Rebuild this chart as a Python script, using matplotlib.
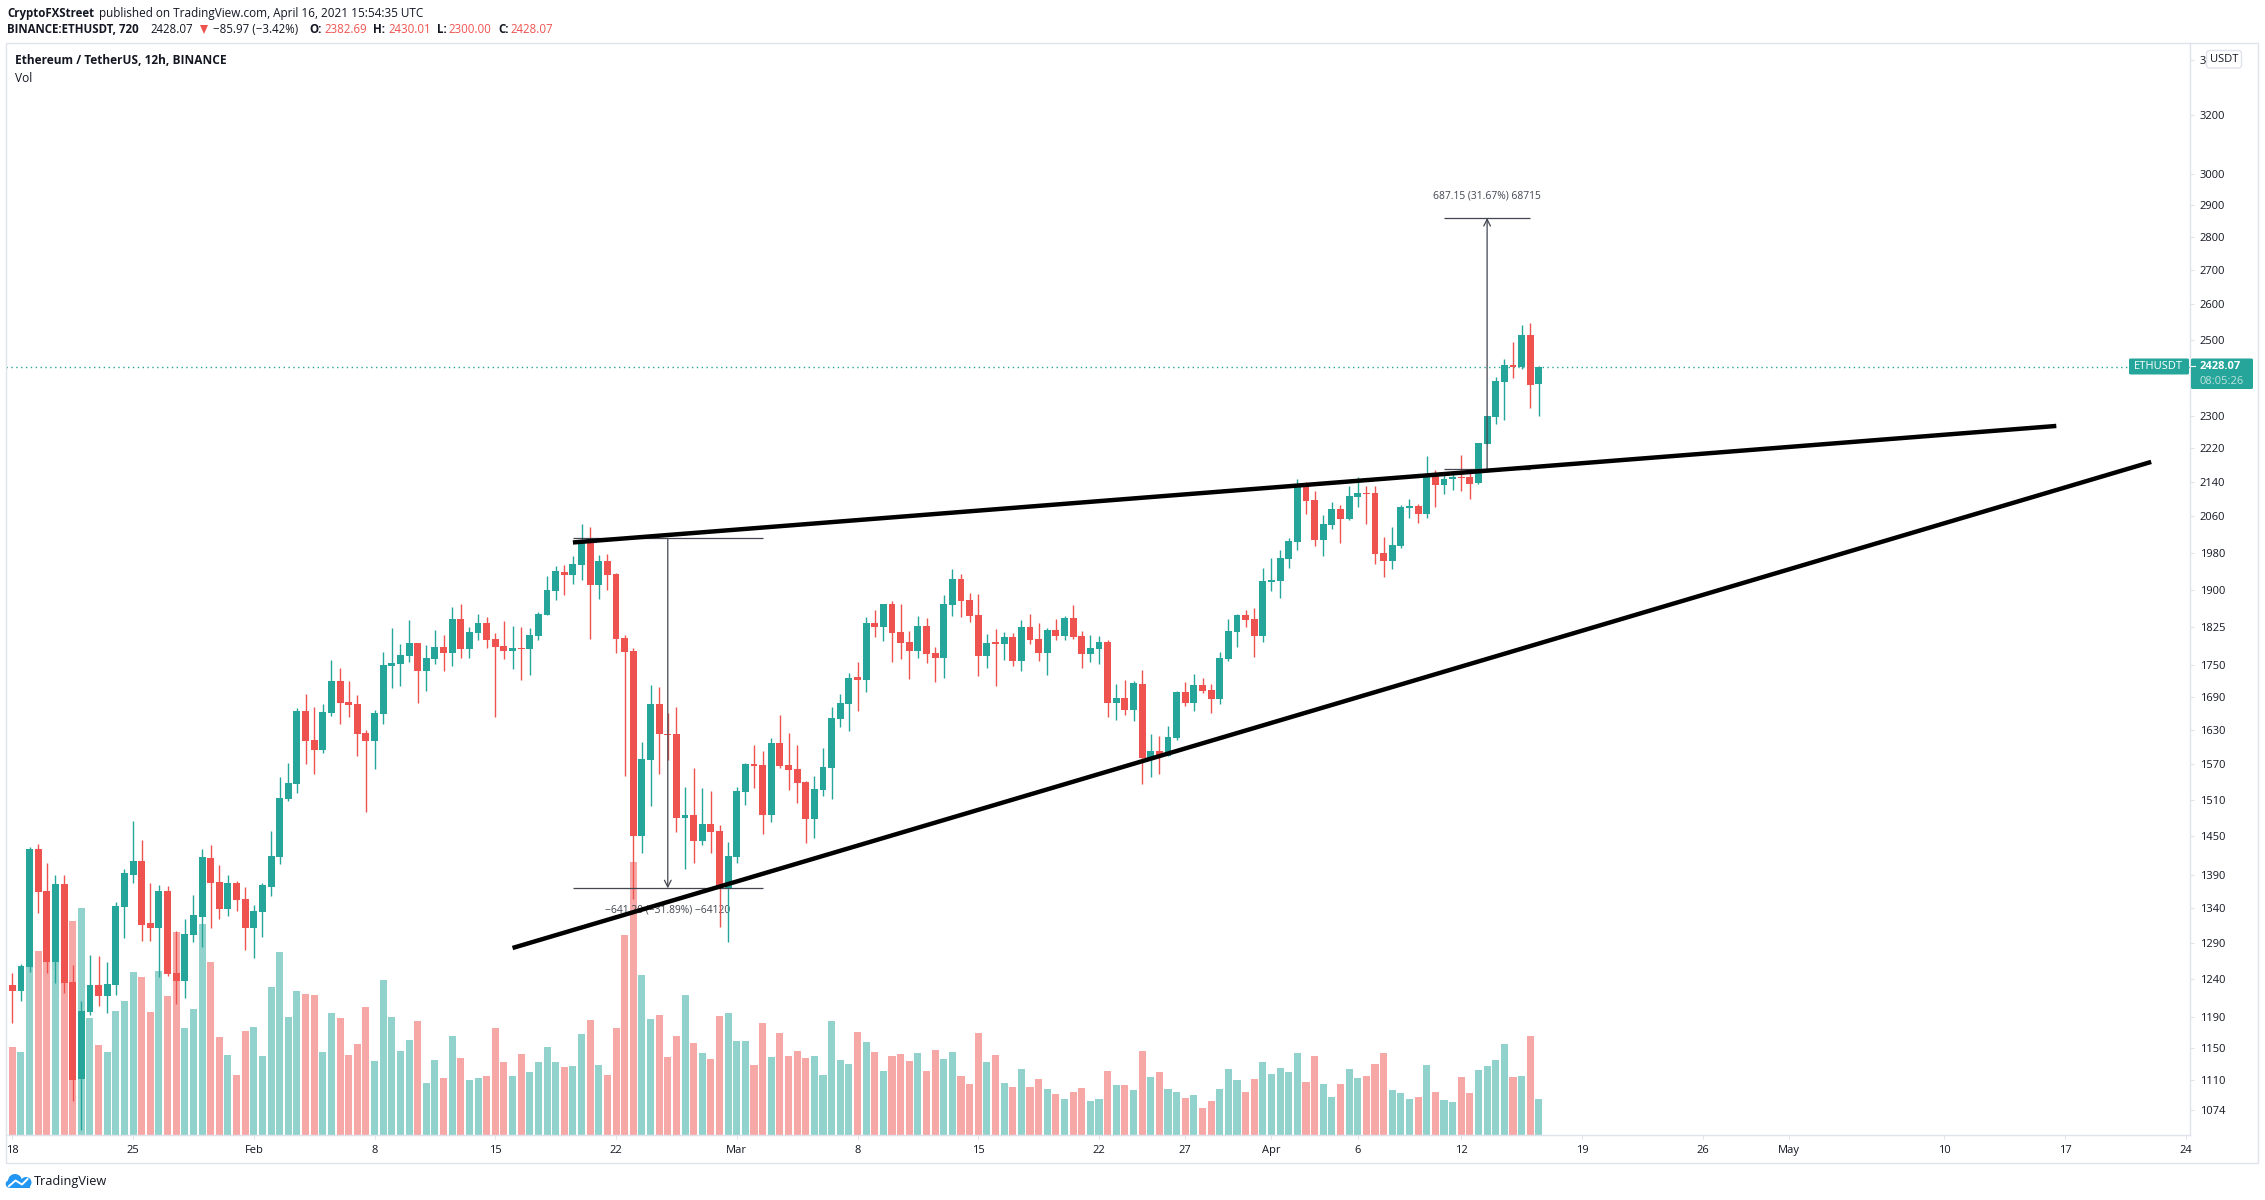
import matplotlib
matplotlib.use('Agg')
import matplotlib.pyplot as plt
from matplotlib.patches import Circle, FancyBboxPatch, Polygon, Rectangle
from matplotlib.ticker import NullLocator

plt.rcParams['font.family'] = ['Open Sans', 'DejaVu Sans']

GREEN = '#26a69a'
RED = '#ef5350'
BORDER = '#e0e3eb'
TEXT = '#131722'
TOOL = '#434651'

# 12h candles, first one is Jan 18 00:00
opens = [
    1232, 1224, 1257, 1430, 1366, 1264, 1376, 1236, 1111, 1196,
    1232, 1217, 1232, 1342, 1390, 1412, 1318, 1312, 1366, 1248,
    1237, 1301, 1327, 1416, 1379, 1339, 1378, 1354, 1312, 1335,
    1372, 1418, 1511, 1536, 1664, 1612, 1594, 1660, 1720, 1681,
    1677, 1625, 1610, 1659, 1748, 1752, 1768, 1793, 1739, 1762,
    1785, 1773, 1841, 1781, 1813, 1833, 1801, 1787, 1777, 1783,
    1781, 1807, 1849, 1898, 1938, 1932, 1953, 2000, 1911, 1962,
    1934, 1803, 1777, 1451, 1577, 1677, 1623, 1623, 1480, 1485,
    1443, 1470, 1459, 1370, 1418, 1523, 1570, 1568, 1485, 1607,
    1568, 1561, 1539, 1478, 1526, 1563, 1649, 1677, 1727, 1722,
    1833, 1825, 1871, 1815, 1795, 1777, 1827, 1773, 1764, 1869,
    1923, 1880, 1849, 1768, 1795, 1791, 1805, 1758, 1825, 1801,
    1773, 1819, 1807, 1843, 1807, 1771, 1781, 1795, 1679, 1688,
    1666, 1714, 1580, 1593, 1584, 1616, 1699, 1679, 1712, 1703,
    1686, 1762, 1815, 1849, 1841, 1807, 1917, 1919, 1966, 2003,
    2132, 2097, 2007, 2041, 2077, 2054, 2104, 2114, 2114, 1979,
    1962, 1994, 2079, 2083, 2066, 2155, 2132, 2146, 2151, 2151,
    2137, 2231, 2298, 2387, 2432, 2427, 2513, 2382.69,
]
highs = [
    1248, 1261, 1433, 1438, 1408, 1390, 1390, 1259, 1211, 1273,
    1272, 1264, 1350, 1399, 1475, 1445, 1378, 1375, 1373, 1307,
    1325, 1360, 1430, 1436, 1405, 1390, 1381, 1372, 1345, 1378,
    1459, 1548, 1572, 1670, 1695, 1671, 1677, 1760, 1744, 1720,
    1693, 1630, 1666, 1775, 1823, 1791, 1839, 1793, 1789, 1819,
    1809, 1865, 1871, 1825, 1851, 1845, 1813, 1837, 1827, 1825,
    1823, 1855, 1930, 1951, 1953, 1972, 2043, 2036, 1975, 1977,
    1936, 1809, 1783, 1608, 1712, 1708, 1660, 1671, 1531, 1563,
    1529, 1524, 1468, 1441, 1531, 1572, 1603, 1593, 1616, 1657,
    1625, 1603, 1541, 1549, 1598, 1671, 1695, 1735, 1756, 1845,
    1859, 1871, 1878, 1871, 1817, 1847, 1843, 1785, 1890, 1945,
    1934, 1894, 1892, 1811, 1821, 1815, 1813, 1839, 1851, 1833,
    1823, 1841, 1847, 1869, 1817, 1809, 1807, 1799, 1714, 1722,
    1720, 1741, 1623, 1619, 1637, 1701, 1718, 1733, 1725, 1714,
    1775, 1841, 1851, 1859, 1863, 1947, 1968, 1986, 2012, 2146,
    2139, 2118, 2063, 2093, 2086, 2130, 2151, 2130, 2130, 2014,
    2036, 2086, 2100, 2088, 2201, 2168, 2155, 2160, 2203, 2163,
    2233, 2300, 2400, 2448, 2495, 2542, 2548, 2430.01,
]
lows = [
    1182, 1211, 1250, 1333, 1248, 1235, 1221, 1085, 1051, 1192,
    1204, 1195, 1219, 1297, 1378, 1293, 1293, 1243, 1244, 1206,
    1215, 1291, 1284, 1312, 1325, 1329, 1336, 1280, 1269, 1298,
    1358, 1407, 1508, 1521, 1570, 1553, 1589, 1655, 1640, 1653,
    1584, 1490, 1562, 1640, 1707, 1710, 1756, 1679, 1701, 1752,
    1739, 1748, 1764, 1764, 1799, 1783, 1653, 1762, 1743, 1722,
    1731, 1799, 1849, 1880, 1890, 1913, 1921, 1801, 1882, 1900,
    1773, 1549, 1354, 1424, 1499, 1553, 1577, 1457, 1399, 1408,
    1437, 1424, 1313, 1291, 1408, 1501, 1529, 1454, 1473, 1563,
    1526, 1504, 1440, 1448, 1516, 1511, 1635, 1628, 1664, 1699,
    1805, 1797, 1756, 1762, 1724, 1764, 1754, 1718, 1725, 1847,
    1845, 1835, 1729, 1744, 1710, 1760, 1748, 1739, 1791, 1758,
    1731, 1799, 1799, 1801, 1744, 1756, 1752, 1653, 1648, 1657,
    1646, 1536, 1548, 1553, 1584, 1612, 1673, 1664, 1697, 1660,
    1677, 1758, 1785, 1825, 1766, 1795, 1898, 1884, 1947, 1986,
    2066, 1994, 1972, 2032, 2001, 2052, 2081, 2043, 1955, 1927,
    1945, 1990, 2056, 2045, 2056, 2081, 2111, 2120, 2118, 2100,
    2134, 2231, 2280, 2290, 2398, 2422, 2320, 2300.00,
]
closes = [
    1224, 1258, 1430, 1364, 1264, 1376, 1235, 1110, 1197, 1232,
    1217, 1233, 1343, 1393, 1412, 1316, 1312, 1366, 1247, 1237,
    1303, 1330, 1418, 1378, 1339, 1378, 1352, 1312, 1336, 1375,
    1419, 1513, 1538, 1664, 1610, 1594, 1662, 1720, 1679, 1675,
    1623, 1610, 1660, 1750, 1754, 1769, 1793, 1739, 1764, 1785,
    1773, 1841, 1781, 1815, 1833, 1799, 1785, 1777, 1783, 1781,
    1809, 1851, 1900, 1940, 1932, 1955, 2000, 1911, 1962, 1932,
    1801, 1775, 1451, 1579, 1677, 1623, 1621, 1480, 1485, 1443,
    1470, 1457, 1372, 1419, 1524, 1570, 1567, 1485, 1607, 1567,
    1560, 1538, 1478, 1528, 1565, 1651, 1679, 1725, 1722, 1833,
    1825, 1871, 1813, 1793, 1777, 1827, 1771, 1764, 1871, 1923,
    1878, 1847, 1768, 1793, 1791, 1805, 1758, 1825, 1799, 1773,
    1819, 1807, 1843, 1805, 1771, 1783, 1795, 1679, 1688, 1666,
    1716, 1580, 1593, 1586, 1617, 1699, 1679, 1712, 1701, 1686,
    1764, 1817, 1849, 1839, 1807, 1919, 1921, 1968, 2005, 2132,
    2095, 2007, 2043, 2077, 2054, 2107, 2114, 2111, 1977, 1962,
    1997, 2081, 2083, 2066, 2155, 2132, 2146, 2151, 2149, 2134,
    2233, 2300, 2390, 2432, 2427, 2513, 2380, 2428.07,
]
# relative volume, the scale of the pane is hidden in the picture
volumes = [
    264, 249, 609, 552, 606, 525, 537, 642, 681, 351,
    270, 249, 372, 402, 489, 474, 369, 492, 417, 609,
    321, 378, 633, 519, 294, 240, 180, 312, 324, 237,
    444, 549, 354, 432, 423, 420, 249, 366, 351, 240,
    273, 384, 222, 465, 354, 252, 285, 342, 156, 225,
    171, 297, 231, 165, 171, 177, 321, 219, 177, 243,
    189, 219, 264, 219, 204, 207, 303, 345, 210, 180,
    321, 600, 819, 480, 348, 360, 234, 297, 420, 276,
    246, 228, 357, 366, 282, 282, 210, 336, 234, 306,
    237, 252, 231, 237, 180, 342, 225, 213, 309, 279,
    249, 192, 237, 243, 222, 246, 192, 255, 228, 249,
    177, 153, 306, 219, 240, 156, 144, 198, 144, 168,
    138, 123, 108, 129, 141, 102, 108, 192, 150, 150,
    135, 252, 174, 189, 138, 129, 111, 120, 81, 102,
    138, 198, 165, 129, 168, 219, 183, 201, 189, 246,
    159, 237, 153, 114, 153, 198, 171, 177, 213, 246,
    135, 126, 108, 114, 210, 129, 105, 99, 174, 126,
    195, 207, 225, 273, 174, 177, 297, 108,
]

price_ticks = [3400, 3200, 3000, 2900, 2800, 2700, 2600, 2500, 2300, 2220, 2140,
               2060, 1980, 1900, 1825, 1750, 1690, 1630, 1570, 1510, 1450, 1390,
               1340, 1290, 1240, 1190, 1150, 1110, 1074]
date_ticks = [0, 14, 28, 42, 56, 70, 84, 98, 112, 126, 136, 146, 156, 168, 182,
              196, 206, 224, 238, 252]
date_labels = ['18', '25', 'Feb', '8', '15', '22', 'Mar', '8', '15', '22', '27',
               'Apr', '6', '12', '19', '26', 'May', '10', '17', '24']

last_price = 2428.07

# trend lines as (bar, price) ends
upper_line = ([65, 237], [2002, 2275])
lower_line = ([58, 248], [1283, 2187])

# price range tools: first bar, last bar, arrow bar, from price, to price
drop_tool = (65, 87, 76, 2011, 1369.8)
rise_tool = (166, 176, 171, 2171, 2858.15)
drop_label = '\u2212641.20 (\u221231.89%) \u221264120'
rise_label = '687.15 (31.67%) 68715'


def px(x, y):
    return x / 2265, 1 - y / 1200


def draw_candles(ax):
    for i, (o, h, l, c) in enumerate(zip(opens, highs, lows, closes)):
        color = GREEN if c >= o else RED
        ax.vlines(i, l, h, color=color, lw=1.0, zorder=3)
        ax.bar(i, abs(c - o), bottom=min(o, c), width=0.8, color=color, lw=0, zorder=3)


def draw_volume(ax):
    colors = [GREEN if c >= o else RED for o, c in zip(opens, closes)]
    ax.bar(range(len(volumes)), volumes, width=0.82, color=colors, alpha=0.5, lw=0)
    ax.set_ylim(0, 3276)
    ax.set_yticks([])
    for spine in ax.spines.values():
        spine.set_visible(False)


def draw_range_tool(ax, tool, label, label_px):
    first, last, mid, start, end = tool
    ax.hlines([start, end], first, last, color=TOOL, lw=0.9, zorder=4)
    ax.annotate('', xy=(mid, end), xytext=(mid, start),
                arrowprops=dict(arrowstyle='->', color=TOOL, lw=0.9, shrinkA=0, shrinkB=0,
                                mutation_scale=12), zorder=4)
    ax.figure.text(*px(*label_px), label, color=TOOL, fontsize=7.4, ha='center', va='center',
                   zorder=1)


def draw_logo(ax):
    blue = '#2196f3'
    for x, y, r in [(15, 1181, 7), (26, 1182.5, 5.5), (9.5, 1184, 3.8)]:
        ax.add_patch(Circle((x, y), r, color=blue, lw=0))
    ax.add_patch(Rectangle((9.5, 1182), 20, 6, color=blue, lw=0))
    ax.plot([9, 15.5, 22, 27.5], [1186, 1180.5, 1184.5, 1179], color='white', lw=1.4)


fig = plt.figure(figsize=(22.65, 12), dpi=100, facecolor='white')

ax = fig.add_axes([6 / 2265, 65 / 1200, 2184 / 2265, 1092 / 1200])
ax_vol = ax.twinx()
ax.set_zorder(2)
ax_vol.set_zorder(1)
ax.patch.set_visible(False)

draw_volume(ax_vol)
draw_candles(ax)

ax.set_yscale('log')
ax.set_ylim(1045, 3463)
ax.set_xlim(-0.734, 252.5)
ax.yaxis.tick_right()
ax.set_yticks(price_ticks)
ax.set_yticklabels([str(p) for p in price_ticks])
ax.yaxis.set_minor_locator(NullLocator())
ax.set_xticks(date_ticks)
ax.set_xticklabels(date_labels)
ax.tick_params(axis='y', length=3, width=0.8, color=BORDER, pad=4, labelsize=8, labelcolor=TEXT)
ax.tick_params(axis='x', length=3, width=0.8, color=BORDER, pad=4, labelsize=8, labelcolor=TEXT)
for side, spine in ax.spines.items():
    spine.set_color(BORDER)
    spine.set_linewidth(1.0)
    spine.set_visible(side in ('right', 'bottom'))

ax.axhline(last_price, color=GREEN, lw=1.0, ls=(0, (1, 2.5)), zorder=2)

draw_range_tool(ax, drop_tool, drop_label, (668, 910))
draw_range_tool(ax, rise_tool, rise_label, (1487, 196))

ax.plot(*upper_line, color='black', lw=3.2, solid_capstyle='butt', zorder=5)
ax.plot(*lower_line, color='black', lw=3.2, solid_capstyle='butt', zorder=5)

# overlay in picture pixels for the page furniture
page = fig.add_axes([0, 0, 1, 1], zorder=10)
page.set_xlim(0, 2265)
page.set_ylim(1200, 0)
page.axis('off')

page.add_patch(Rectangle((6, 43), 2252, 1120, fill=False, ec=BORDER, lw=1.0))

page.add_patch(FancyBboxPatch((2129, 358.5), 60, 16, boxstyle='round,pad=0,rounding_size=1.5',
                              fc=GREEN, ec='none'))
page.add_patch(FancyBboxPatch((2191, 358.5), 62, 30.5, boxstyle='round,pad=0,rounding_size=1.5',
                              fc=GREEN, ec='none'))
page.plot([2191, 2195], [366, 366], color='white', lw=0.8)
page.text(2158, 366.5, 'ETHUSDT', color='white', fontsize=8, ha='center', va='center')
page.text(2200, 366.5, '2428.07', color='white', fontsize=8, fontweight='bold', va='center')
page.text(2200, 381, '08:05:26', color='#bde4df', fontsize=8, va='center')

page.add_patch(FancyBboxPatch((2206.5, 50.5), 35, 17.5, boxstyle='round,pad=0,rounding_size=3',
                              fc='white', ec=BORDER, lw=1.0))
page.text(2224, 59.5, 'USDT', color=TEXT, fontsize=8, ha='center', va='center')

page.text(7, 13, 'CryptoFXStreet', color=TEXT, fontsize=8.3, fontweight='bold', va='center')
page.text(99, 13, 'published on TradingView.com, April 16, 2021 15:54:35 UTC', color=TEXT,
          fontsize=8.5, va='center')
page.text(7, 29.5, 'BINANCE:ETHUSDT, 720', color=TEXT, fontsize=8.3, fontweight='bold', va='center')
page.text(150, 29.5, '2428.07', color=TEXT, fontsize=8.3, va='center')
page.add_patch(Polygon([(200, 25), (208, 25), (204, 34)], color=RED, lw=0))
page.text(213, 29.5, '\u221285.97 (\u22123.42%)', color=TEXT, fontsize=8.3, va='center')
for label, lx, value, vx in [('O:', 309, '2382.69', 324), ('H:', 373.5, '2430.01', 388),
                             ('L:', 437, '2300.00', 448.5), ('C:', 498, '2428.07', 510.5)]:
    page.text(lx, 29.5, label, color=TEXT, fontsize=8.3, fontweight='bold', va='center')
    page.text(vx, 29.5, value, color=RED, fontsize=8.3, va='center')

page.text(15, 61, 'Ethereum / TetherUS, 12h, BINANCE', color=TEXT, fontsize=8.6,
          fontweight='bold', va='center')
page.text(15, 78, 'Vol', color=TEXT, fontsize=8.6, va='center')

draw_logo(page)
page.text(34, 1182, 'TradingView', color=TEXT, fontsize=9.2, va='center')

fig.savefig('out.png', dpi=100)
